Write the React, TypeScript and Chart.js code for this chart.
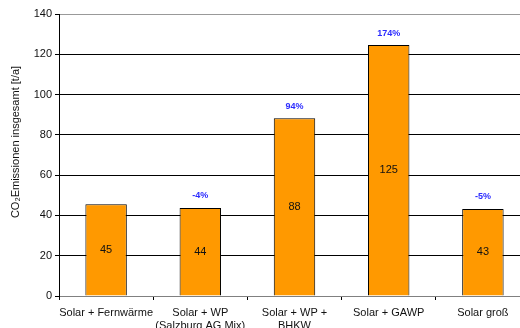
import React, { useEffect, useRef } from "react";
import { Chart, registerables } from "chart.js";

Chart.register(...registerables);

const categories: (string | string[])[] = [
  "Solar + Fernwärme",
  ["Solar + WP", "(Salzburg AG Mix)"],
  ["Solar + WP +", "BHKW"],
  "Solar + GAWP",
  "Solar groß",
];
const emissions = [45.6, 43.7, 88.2, 124.6, 43.2];
const valueLabels = ["45", "44", "88", "125", "43"];
const changeLabels = ["", "-4%", "94%", "174%", "-5%"];
const yTicks = [0, 20, 40, 60, 80, 100, 120, 140];
const yTitle = "CO₂Emissionen insgesamt [t/a]";

const FONT = "'Liberation Sans', Arial, sans-serif";

const labelPlugin = {
  id: "barLabels",
  afterDatasetsDraw(chart: any) {
    const ctx = chart.ctx;
    const meta = chart.getDatasetMeta(0);
    ctx.save();
    meta.data.forEach((bar: any, i: number) => {
      const midY = (bar.y + bar.base) / 2;
      ctx.font = `11px ${FONT}`;
      ctx.fillStyle = "#111";
      ctx.textAlign = "center";
      ctx.textBaseline = "middle";
      ctx.fillText(valueLabels[i], bar.x, midY);
      if (changeLabels[i]) {
        ctx.font = `bold 9px ${FONT}`;
        ctx.fillStyle = "#2b2bff";
        ctx.fillText(changeLabels[i], bar.x, bar.y - 12);
      }
    });
    // y axis title
    const area = chart.chartArea;
    ctx.translate(16, (area.top + area.bottom) / 2 - 13);
    ctx.rotate(-Math.PI / 2);
    ctx.font = `11px ${FONT}`;
    ctx.fillStyle = "#111";
    ctx.textAlign = "center";
    ctx.textBaseline = "middle";
    ctx.fillText(yTitle, 0, 0);
    ctx.restore();
  },
};

export default function App() {
  const ref = useRef<HTMLCanvasElement>(null);
  useEffect(() => {
    document.body.style.margin = "0";
    document.body.style.overflow = "hidden";
    const chart = new Chart(ref.current!, {
      type: "bar",
      data: {
        labels: categories,
        datasets: [
          {
            data: emissions,
            backgroundColor: "#FF9900",
            borderColor: "#000",
            borderWidth: 1,
            barPercentage: 0.44,
            categoryPercentage: 1,
          },
        ],
      },
      options: {
        animation: false,
        responsive: false,
        maintainAspectRatio: false,
        layout: { padding: { top: 14, left: 0, right: 0, bottom: 0 } },
        plugins: { legend: { display: false }, tooltip: { enabled: false } },
        scales: {
          x: {
            offset: true,
            grid: {
              offset: true,
              drawOnChartArea: false,
              drawTicks: true,
              tickLength: 4,
              color: "#000",
            },
            border: { color: "#808080", width: 1 },
            ticks: {
              color: "#111",
              font: { family: FONT, size: 11 },
              maxRotation: 0,
              autoSkip: false,
              padding: 6,
            },
            afterFit: (s: any) => {
              s.height = 44;
            },
          },
          y: {
            min: 0,
            max: 140,
            afterBuildTicks: (s: any) => {
              s.ticks = yTicks.map((v) => ({ value: v }));
            },
            grid: {
              color: (c: any) => (c.tick && c.tick.value === 140 ? "#999" : "#000"),
              tickLength: 4,
              tickColor: "#000",
            },
            border: { color: "#000", width: 1 },
            ticks: {
              color: "#111",
              font: { family: FONT, size: 11 },
              padding: 3,
            },
            afterFit: (s: any) => {
              s.width = 59;
            },
          },
        },
      },
      plugins: [labelPlugin],
    });
    return () => chart.destroy();
  }, []);
  return (
    <div style={{ width: 530, height: 340 }}>
      <canvas ref={ref} width={530} height={340} style={{ width: 530, height: 340 }} />
    </div>
  );
}
